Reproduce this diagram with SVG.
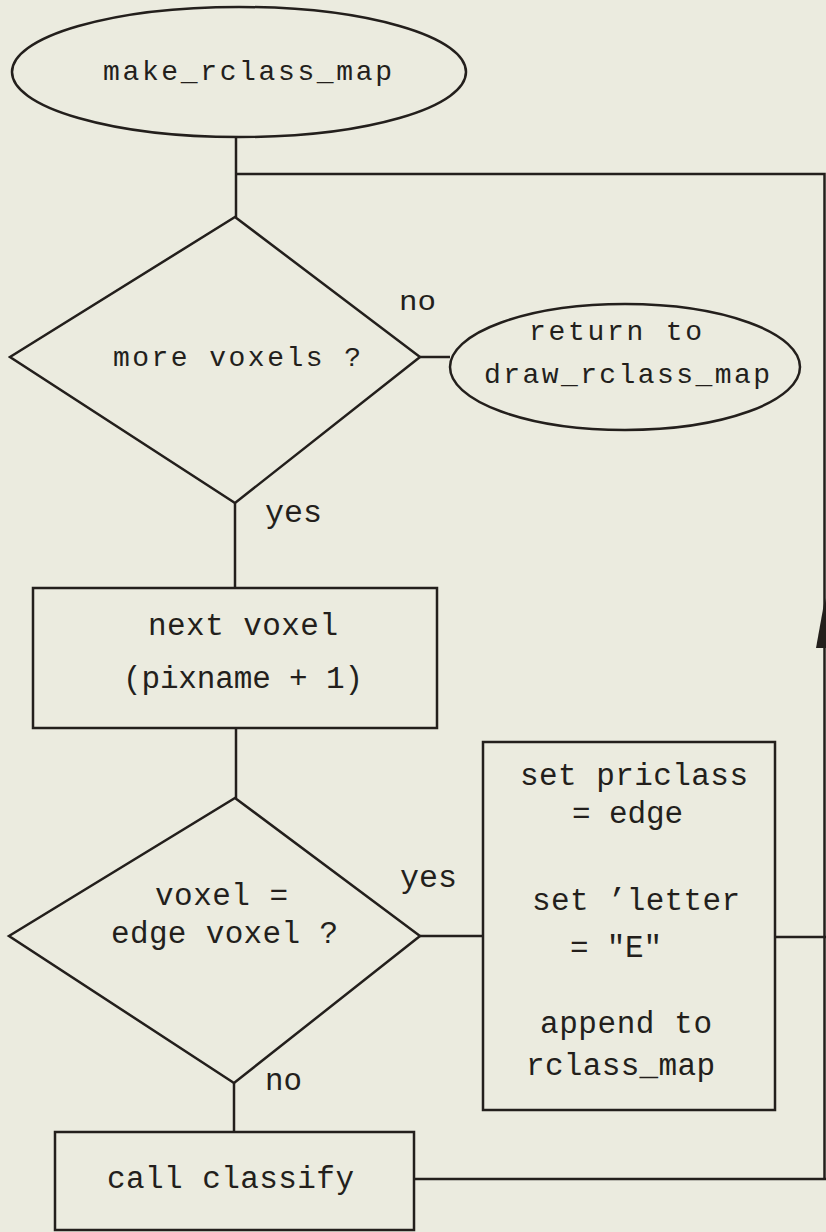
<svg xmlns="http://www.w3.org/2000/svg" width="826" height="1232" viewBox="0 0 826 1232">
  <style>
    .bg { fill: #ebebdf; }
    .shape { fill: none; stroke: #231f1c; stroke-width: 2.5; }
    .line { fill: none; stroke: #231f1c; stroke-width: 2.5; }
    .t1 { font-family: "Liberation Mono", "DejaVu Sans Mono", monospace; font-size: 28px; fill: #231f1c; }
    .t2 { font-family: "Liberation Mono", "DejaVu Sans Mono", monospace; font-size: 31px; fill: #231f1c; }
  </style>
  <rect class="bg" x="0" y="0" width="826" height="1232"/>

  <!-- connectors -->
  <g id="connectors">
    <path class="line" d="M236,137 V217"/>
    <path class="line" d="M236,174 H824.5 V1179"/>
    <path class="line" d="M420,357 H450"/>
    <path class="line" d="M235,503 V588"/>
    <path class="line" d="M236,728 V798"/>
    <path class="line" d="M420,936 H483"/>
    <path class="line" d="M775,937 H826"/>
    <path class="line" d="M234,1083 V1132"/>
    <path class="line" d="M414,1179 H826"/>
    <polygon points="825,598 816,648 834,648" fill="#231f1c"/>
    <text class="t1" x="399" y="310" textLength="37" lengthAdjust="spacingAndGlyphs">no</text>
    <text class="t2" x="265" y="522" textLength="57" lengthAdjust="spacingAndGlyphs">yes</text>
    <text class="t2" x="400" y="887" textLength="57" lengthAdjust="spacingAndGlyphs">yes</text>
    <text class="t2" x="265" y="1090" textLength="37" lengthAdjust="spacingAndGlyphs">no</text>
  </g>

  <!-- start terminal -->
  <g id="start">
    <ellipse class="shape" cx="239" cy="72" rx="227" ry="65"/>
    <text class="t1" x="103" y="80" textLength="289" lengthAdjust="spacing">make_rclass_map</text>
  </g>

  <!-- loop test -->
  <g id="more-voxels">
    <polygon class="shape" points="235,217 420,357 235,503 10,357"/>
    <text class="t1" x="113" y="366" textLength="248" lengthAdjust="spacing">more voxels ?</text>
  </g>

  <!-- exit terminal -->
  <g id="return">
    <ellipse class="shape" cx="625" cy="367" rx="175" ry="63"/>
    <text class="t1" x="529" y="340" textLength="173" lengthAdjust="spacing">return to</text>
    <text class="t1" x="484" y="383" textLength="286" lengthAdjust="spacing">draw_rclass_map</text>
  </g>

  <!-- advance to next voxel -->
  <g id="next-voxel">
    <rect class="shape" x="33" y="588" width="404" height="140"/>
    <text class="t2" x="148" y="635" textLength="190" lengthAdjust="spacing">next voxel</text>
    <text class="t2" x="123" y="688" textLength="240" lengthAdjust="spacing">(pixname + 1)</text>
  </g>

  <!-- edge test -->
  <g id="edge-test">
    <polygon class="shape" points="235,798 420,936 234,1083 9,936"/>
    <text class="t2" x="155" y="905" textLength="133" lengthAdjust="spacing">voxel =</text>
    <text class="t2" x="111" y="943" textLength="227" lengthAdjust="spacing">edge voxel ?</text>
  </g>

  <!-- edge handling -->
  <g id="set-edge">
    <rect class="shape" x="483" y="742" width="292" height="368"/>
    <text class="t2" x="520" y="785" textLength="228" lengthAdjust="spacing">set priclass</text>
    <text class="t2" x="572" y="823" textLength="111" lengthAdjust="spacing">= edge</text>
    <text class="t2" x="532" y="910" textLength="208" lengthAdjust="spacing">set ’letter</text>
    <text class="t2" x="570" y="957" textLength="92" lengthAdjust="spacing">= "E"</text>
    <text class="t2" x="540" y="1033" textLength="172" lengthAdjust="spacing">append to</text>
    <text class="t2" x="526" y="1075" textLength="189" lengthAdjust="spacing">rclass_map</text>
  </g>

  <!-- classification call -->
  <g id="classify">
    <rect class="shape" x="55" y="1132" width="359" height="98"/>
    <text class="t2" x="107" y="1188" textLength="247" lengthAdjust="spacing">call classify</text>
  </g>
</svg>
